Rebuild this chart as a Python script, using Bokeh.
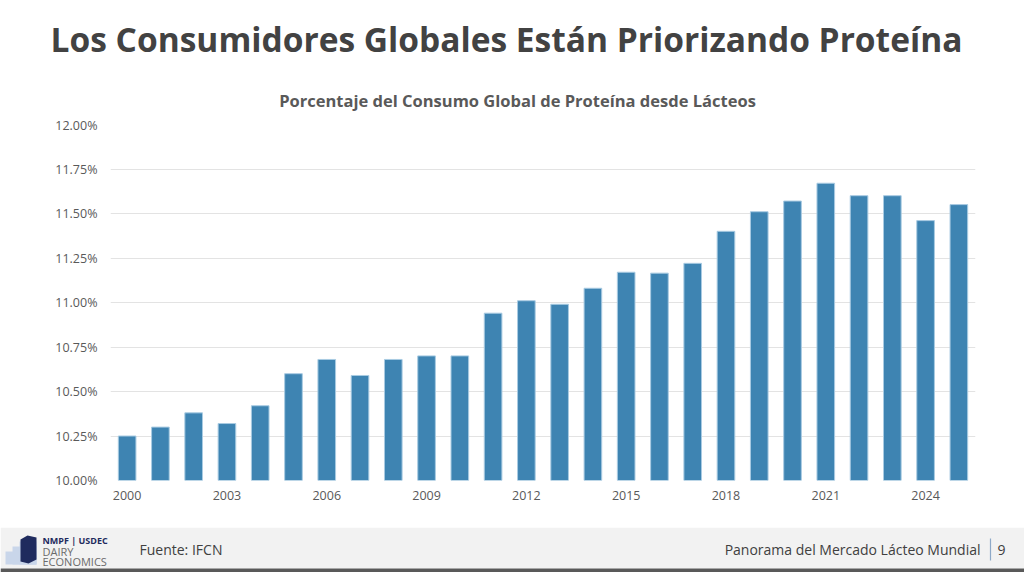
from bokeh.plotting import figure
from bokeh.layouts import column
from bokeh.models import Range1d, FixedTicker, PrintfTickFormatter
from bokeh.core.properties import value
from bokeh.embed import file_html
from bokeh.resources import INLINE

years = list(range(2000, 2026))
share = [10.25, 10.30, 10.38, 10.32, 10.42, 10.60, 10.68, 10.59, 10.68, 10.70,
         10.70, 10.94, 11.01, 10.99, 11.08, 11.17, 11.165, 11.22, 11.40, 11.51,
         11.57, 11.67, 11.60, 11.60, 11.46, 11.55]
x_ticks = [2000, 2003, 2006, 2009, 2012, 2015, 2018, 2021, 2024]
y_ticks = [10.0, 10.25, 10.5, 10.75, 11.0, 11.25, 11.5, 11.75, 12.0]

title_text = "Los Consumidores Globales Están Priorizando Proteína"
subtitle_text = "Porcentaje del Consumo Global de Proteína desde Lácteos"
source_text = "Fuente: IFCN"
footer_text = "Panorama del Mercado Lácteo Mundial"
page_no = "9"
logo_top = "NMPF | USDEC"
logo_lines = ["DAIRY", "ECONOMICS"]

W = 1024
FONT = "Open Sans"


def blank(h):
    f = figure(width=W, height=h, x_range=Range1d(0, W), y_range=Range1d(h, 0),
               output_backend="svg", toolbar_location=None, min_border=0,
               x_axis_type=None, y_axis_type=None, frame_align=False)
    f.grid.visible = False
    f.outline_line_color = None
    return f


def txt(f, x, y, s, size, color="#404040", bold=False, align="left"):
    f.text(x=[x], y=[y], text=[s], text_font=value(FONT), text_font_size=size,
           text_font_style="bold" if bold else "normal", text_color=color,
           text_align=align, text_baseline="middle")


# ---- header (0..116)
top = blank(116)
txt(top, 506, 38, title_text, "33.5px", color="#424242", bold=True, align="center")
txt(top, 517, 100, subtitle_text, "16.5px", color="#595959", bold=True, align="center")

# ---- chart (116..527)
p = figure(width=W, height=411, x_range=Range1d(1999.5, 2025.5), y_range=Range1d(10.0, 12.0),
           output_backend="svg", toolbar_location=None, frame_align=False,
           min_border_left=110, min_border_right=49, min_border_top=8, min_border_bottom=47)
p.vbar(x=years, top=share, bottom=10.0, width=0.53, fill_color="#3E84B2",
       line_color="#A9CBE2", line_width=1)
p.outline_line_color = None
p.xgrid.visible = False
p.ygrid.grid_line_color = "#E3E3E3"
p.ygrid.grid_line_width = 1.2
p.xaxis.ticker = FixedTicker(ticks=x_ticks)
p.yaxis.ticker = FixedTicker(ticks=y_ticks)
p.yaxis.formatter = PrintfTickFormatter(format="%.2f%%")
for ax in (p.xaxis, p.yaxis):
    ax.axis_line_color = None
    ax.major_tick_line_color = None
    ax.minor_tick_line_color = None
    ax.major_tick_out = 0
    ax.major_tick_in = 0
    ax.major_label_text_font = FONT
    ax.major_label_text_font_size = "12.5px"
    ax.major_label_text_color = "#595959"
p.xaxis.major_label_standoff = 10
p.yaxis.major_label_standoff = 13

# ---- footer (527..572)
foot = blank(45)
foot.quad(left=[0], right=[W], top=[0], bottom=[41], fill_color="#F2F2F2", line_color=None)
foot.quad(left=[0], right=[W], top=[41], bottom=[45], fill_color="#595959", line_color=None)
foot.quad(left=[5, 12, 19], right=[36, 36, 36], top=[24, 19, 14], bottom=[37, 37, 37],
          fill_color="#C9D6EA", line_color=None)
foot.patch(x=[20, 27, 36, 36, 28, 20], y=[12, 8, 10, 32, 36, 34],
           fill_color="#1F2B5E", line_color=None)
txt(foot, 42, 13, logo_top, "9px", color="#1F2B5E", bold=True)
txt(foot, 42, 24, logo_lines[0], "11px", color="#6B6B6B")
txt(foot, 42, 34, logo_lines[1], "11px", color="#6B6B6B")
txt(foot, 139, 22, source_text, "14px")
txt(foot, 980, 22, footer_text, "14px", align="right")
foot.segment(x0=[990], y0=[11], x1=[990], y1=[33], line_color="#8EA9C8", line_width=1.2)
txt(foot, 997, 22, page_no, "14px")

layout = column(top, p, foot, spacing=0)
open("out.html", "w").write(file_html(layout, INLINE))
